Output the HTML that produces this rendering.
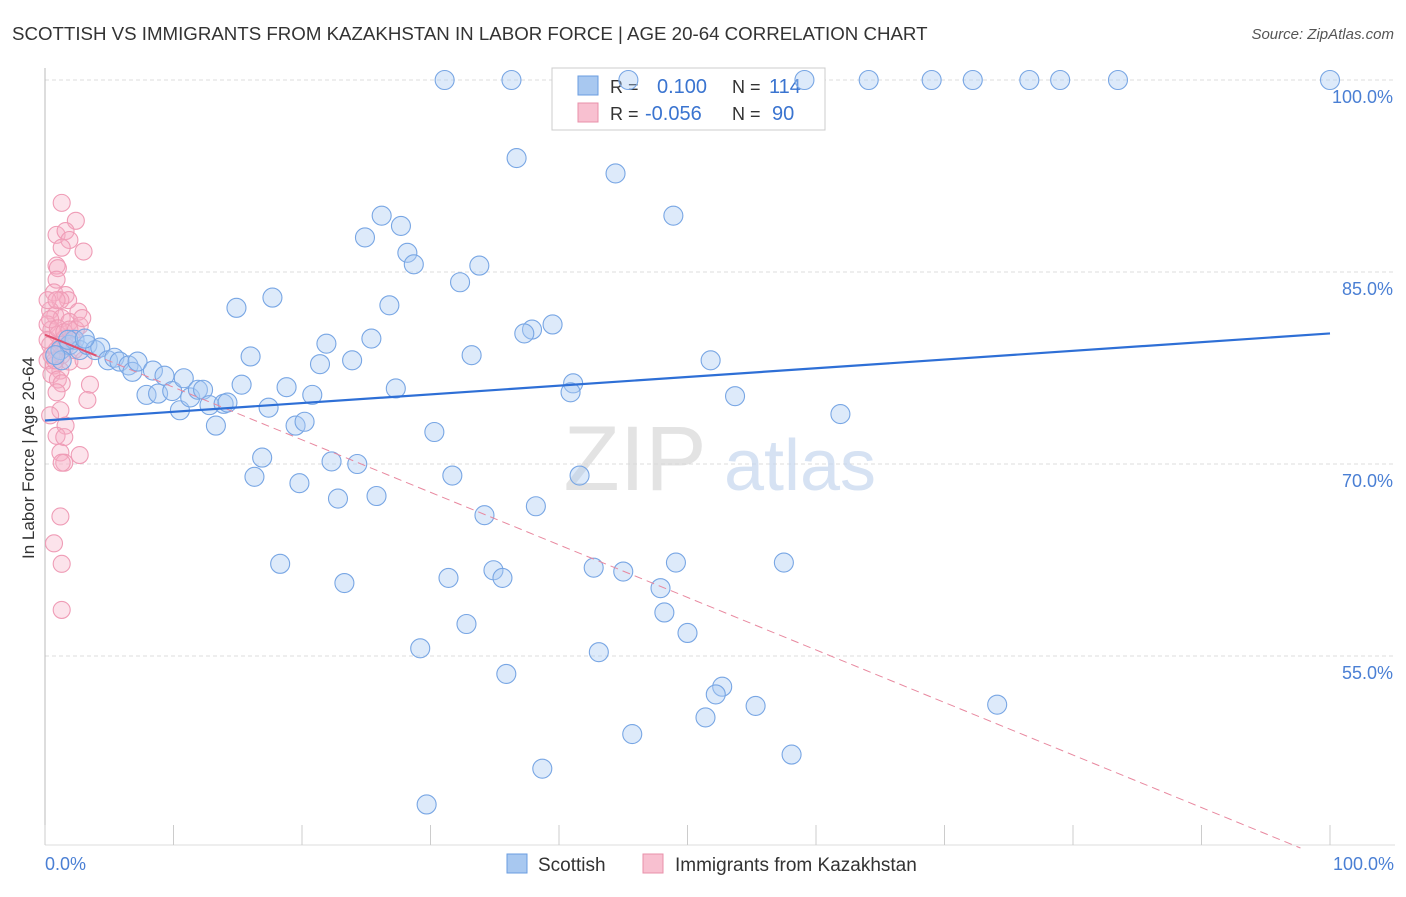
<!DOCTYPE html>
<html><head><meta charset="utf-8"><style>
body{margin:0;background:#fff;font-family:"Liberation Sans",sans-serif}
svg text{font-family:"Liberation Sans",sans-serif}
</style></head><body>
<svg id="chart" width="1406" height="892" viewBox="0 0 1406 892" xmlns="http://www.w3.org/2000/svg">
<text x="12" y="40" font-size="18.7" fill="#333">SCOTTISH VS IMMIGRANTS FROM KAZAKHSTAN IN LABOR FORCE | AGE 20-64 CORRELATION CHART</text>
<text x="1394" y="39" font-size="15" fill="#555" font-style="italic" text-anchor="end">Source: ZipAtlas.com</text>
<g id="grid"></g>
<g><text x="635" y="490" font-size="92" fill="#d8d8d8" font-family="Liberation Serif" text-anchor="middle" opacity="0.7">ZIP</text><text x="800" y="490" font-size="72" fill="#c5d6ee" text-anchor="middle" opacity="0.7">atlas</text></g>
<line x1="45" y1="68" x2="45" y2="845" stroke="#bbb"/>
<line x1="45" y1="845" x2="1395" y2="845" stroke="#ddd"/>
<g id="xticks"></g>
<g>
<rect x="552" y="68" width="273" height="62" fill="#fff" stroke="#ccc"/>
<rect x="578" y="76" width="20" height="19" fill="#a8c8f0" stroke="#6a9de0"/>
<rect x="578" y="103" width="20" height="19" fill="#f8c0d0" stroke="#e890aa"/>
<text x="610" y="93" font-size="18" fill="#333">R =</text><text x="657" y="93" font-size="20" fill="#3a74d0">0.100</text>
<text x="732" y="93" font-size="18" fill="#333">N =</text><text x="769" y="93" font-size="20" fill="#3a74d0">114</text>
<text x="610" y="120" font-size="18" fill="#333">R =</text><text x="645" y="120" font-size="20" fill="#3a74d0">-0.056</text>
<text x="732" y="120" font-size="18" fill="#333">N =</text><text x="772" y="120" font-size="20" fill="#3a74d0">90</text>
</g>
<g id="pink"></g>
<g id="blue"></g>
<g id="trends"></g>
<text x="34" y="458" font-size="17" fill="#333" text-anchor="middle" transform="rotate(-90 34 458)">In Labor Force | Age 20-64</text>
<text x="45" y="870" font-size="18" fill="#4a7fd4">0.0%</text>
<text x="1394" y="870" font-size="18" fill="#4a7fd4" text-anchor="end">100.0%</text>
<g>
<rect x="507" y="854" width="20" height="19" fill="#a8c8f0" stroke="#6a9de0"/>
<text x="538" y="871" font-size="19" fill="#333">Scottish</text>
<rect x="643" y="854" width="20" height="19" fill="#f8c0d0" stroke="#e890aa"/>
<text x="675" y="871" font-size="19" fill="#333">Immigrants from Kazakhstan</text>
</g>
</svg>
<script>
const yTicks=[100,85,70,55];
const yTickLabels=["100.0%","85.0%","70.0%","55.0%"];
const xTicks=[0,10,20,30,40,50,60,70,80,90,100];
const blueX=[31.1,36.3,45.4,59.1,64.1,69.0,72.2,76.6,79.0,83.5,100,36.7,44.4,48.9,26.2,27.7,24.9,28.2,28.7,33.8,32.3,14.9,17.7,26.8,39.5,37.9,37.3,21.9,25.4,33.2,16.0,21.4,23.9,51.8,15.3,18.8,20.8,27.3,41.1,40.9,53.7,61.9,17.4,19.5,20.2,13.3,30.3,16.9,16.3,19.8,22.3,24.3,31.7,41.6,22.8,25.8,38.2,34.2,18.3,23.3,31.4,34.9,35.6,42.7,45.0,49.1,57.5,47.9,48.2,50.0,32.8,29.2,43.1,35.9,52.7,52.2,55.3,51.4,74.1,45.7,58.1,38.7,29.7,1.2,1.9,2.3,2.7,3.3,3.9,4.3,4.9,5.4,5.8,6.5,6.8,7.2,7.9,8.4,8.8,9.3,9.9,10.5,10.8,11.3,11.9,12.3,12.8,13.9,14.2,1.8,3.1,1.3,0.8];
const blueY=[100,100,100,100,100,100,100,100,100,100,100,93.9,92.7,89.4,89.4,88.6,87.7,86.5,85.6,85.5,84.2,82.2,83.0,82.4,80.9,80.5,80.2,79.4,79.8,78.5,78.4,77.8,78.1,78.1,76.2,76.0,75.4,75.9,76.3,75.6,75.3,73.9,74.4,73.0,73.3,73.0,72.5,70.5,69.0,68.5,70.2,70.0,69.1,69.1,67.3,67.5,66.7,66.0,62.2,60.7,61.1,61.7,61.1,61.9,61.6,62.3,62.3,60.3,58.4,56.8,57.5,55.6,55.3,53.6,52.6,52.0,51.1,50.2,51.2,48.9,47.3,46.2,43.4,78.9,79.3,79.7,78.9,79.3,78.9,79.1,78.1,78.3,78.0,77.7,77.2,78.0,75.4,77.3,75.5,76.9,75.7,74.2,76.7,75.2,75.8,75.8,74.6,74.7,74.8,79.7,79.8,78.1,78.5];
const pinkX=[1.3,2.4,0.9,1.6,1.9,1.3,3.0,0.9,1.0,0.9,0.7,1.6,1.8,1.2,2.6,0.4,0.8,1.3,1.9,2.7,0.2,0.5,1.0,1.5,2.1,0.4,0.9,1.3,0.2,0.7,1.2,1.9,3.0,0.5,1.0,1.3,3.5,0.9,3.3,1.2,0.4,1.6,0.9,1.5,2.7,1.2,1.5,1.3,1.2,0.7,1.3,1.3,0.8,0.2,0.4,1.0,1.5,1.6,1.9,2.3,0.5,1.2,0.2,2.4,2.9,0.9];
const pinkY=[90.4,89.0,87.9,88.2,87.5,86.9,86.6,85.5,85.3,84.4,83.4,83.2,82.8,82.8,81.9,82.0,81.6,81.4,81.1,80.8,80.9,80.5,80.1,79.8,79.7,79.3,78.9,78.5,78.1,77.7,77.3,78.0,78.1,77.0,76.6,76.3,76.2,75.6,75.0,74.2,73.8,73.0,72.2,72.1,70.7,70.9,70.1,70.1,65.9,63.8,62.2,58.6,78.1,79.7,81.3,80.6,80.3,79.2,80.5,78.9,78.5,79.3,82.8,80.5,81.4,82.8];
const blueTrend=[[0,73.4],[100,80.2]];
const pinkTrend=[[0,80.1],[97.7,40]];
const NS='http://www.w3.org/2000/svg';
const sx=v=>45+v*12.85;
const sy=v=>80+(100-v)*12.8;
function mk(tag,attrs,parent){const e=document.createElementNS(NS,tag);for(const k in attrs)e.setAttribute(k,attrs[k]);parent.appendChild(e);return e;}
const grid=document.getElementById('grid');
yTicks.forEach((t,i)=>{
 const l=mk('line',{x1:45,x2:1395,y1:sy(t),y2:sy(t),stroke:'#ddd','stroke-dasharray':'4,3'},grid);
 
 
 const tx=mk('text',{x:1393,y:sy(t)+23,'font-size':18,fill:'#4a7fd4','text-anchor':'end'},grid);
 tx.textContent=yTickLabels[i];
 
 
});
const xt=document.getElementById('xticks');
xTicks.forEach(t=>{
 const l=mk('line',{x1:sx(t),x2:sx(t),y1:825,y2:845,stroke:'#ccc'},xt);
 
 
});
const pg=document.getElementById('pink');
pinkX.forEach((x,i)=>{
 const c=mk('circle',{cx:sx(x),cy:sy(pinkY[i]),r:8.5,fill:'rgba(247,175,198,0.35)',stroke:'#ef9cb6','stroke-width':1.1},pg);
 
 
});
const bg=document.getElementById('blue');
blueX.forEach((x,i)=>{
 const c=mk('circle',{cx:sx(x),cy:sy(blueY[i]),r:9.5,fill:'rgba(170,202,242,0.4)',stroke:'#78a6e4','stroke-width':1.1},bg);
 
 
});
const tg=document.getElementById('trends');
const pl=mk('line',{x1:sx(pinkTrend[0][0]),y1:sy(pinkTrend[0][1]),x2:sx(pinkTrend[1][0]),y2:sy(pinkTrend[1][1]),stroke:'#e8889f','stroke-width':1,'stroke-dasharray':'8,5'},tg);


const f=4/97.7;
const ps=mk('line',{x1:sx(pinkTrend[0][0]),y1:sy(pinkTrend[0][1]),x2:sx(4),y2:sy(pinkTrend[0][1]+(pinkTrend[1][1]-pinkTrend[0][1])*f),stroke:'#e0506f','stroke-width':2},tg);


const bl=mk('line',{x1:sx(blueTrend[0][0]),y1:sy(blueTrend[0][1]),x2:sx(blueTrend[1][0]),y2:sy(blueTrend[1][1]),stroke:'#2e6fd6','stroke-width':2.2},tg);


</script>
</body></html>
